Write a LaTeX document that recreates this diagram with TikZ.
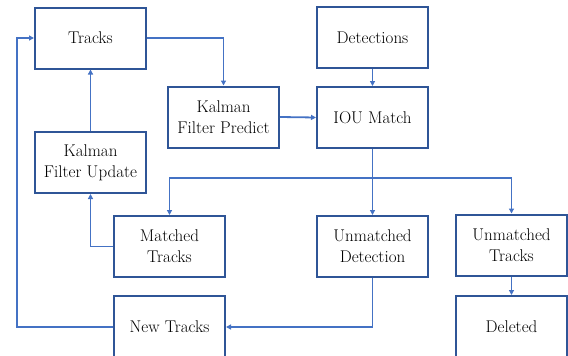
\documentclass[tikz,border=0pt]{standalone}
\usepackage{fontspec}
\usetikzlibrary{arrows.meta}
\definecolor{boxblue}{HTML}{2F5597}
\definecolor{lineblue}{HTML}{4472C4}
\begin{document}
\begin{tikzpicture}[x=1pt,y=-1pt,
  blk/.style={draw=boxblue,line width=2pt,minimum width=111pt,minimum height=61pt,
    inner sep=2pt,align=center,font=\fontsize{17}{21}\selectfont,text=black},
  conn/.style={draw=lineblue,line width=1.8pt},
  arr/.style={conn,-{Triangle[length=5pt,width=5pt]}}]
\useasboundingbox (0,0) rectangle (568,356);
\node[blk] (tracks) at (90.5,38) {Tracks};
\node[blk] (predict) at (223.5,117) {Kalman\\Filter Predict};
\node[blk] (update) at (90.5,162.5) {Kalman\\Filter Update};
\node[blk] (det) at (372.5,37.5) {Detections};
\node[blk] (iou) at (372.5,117.5) {IOU Match};
\node[blk] (matched) at (169.5,246.5) {Matched\\Tracks};
\node[blk] (undet) at (372.5,246.5) {Unmatched\\Detection};
\node[blk] (untr) at (511.5,245) {Unmatched\\Tracks};
\node[blk,minimum height=62pt] (new) at (169.5,327) {New Tracks};
\node[blk,minimum height=62pt] (del) at (511.5,327) {Deleted};
\coordinate (br) at (372.5,178);
\coordinate (lft) at (17,327);
\draw[arr] (tracks.east) -| (predict.north);
\draw[arr] (predict.east) -- (iou.west);
\draw[arr] (det.south) -- (iou.north);
\draw[conn] (iou.south) -- (br);
\draw[arr] (br) -| (matched.north);
\draw[arr] (br) -- (undet.north);
\draw[arr] (br) -| (untr.north);
\draw[arr] (matched.west) -| (update.south);
\draw[arr] (update.north) -- (tracks.south);
\draw[arr] (undet.south) |- (new.east);
\draw[arr] (new.west) -- (lft) |- (tracks.west);
\draw[arr] (untr.south) -- (del.north);
\end{tikzpicture}
\end{document}
